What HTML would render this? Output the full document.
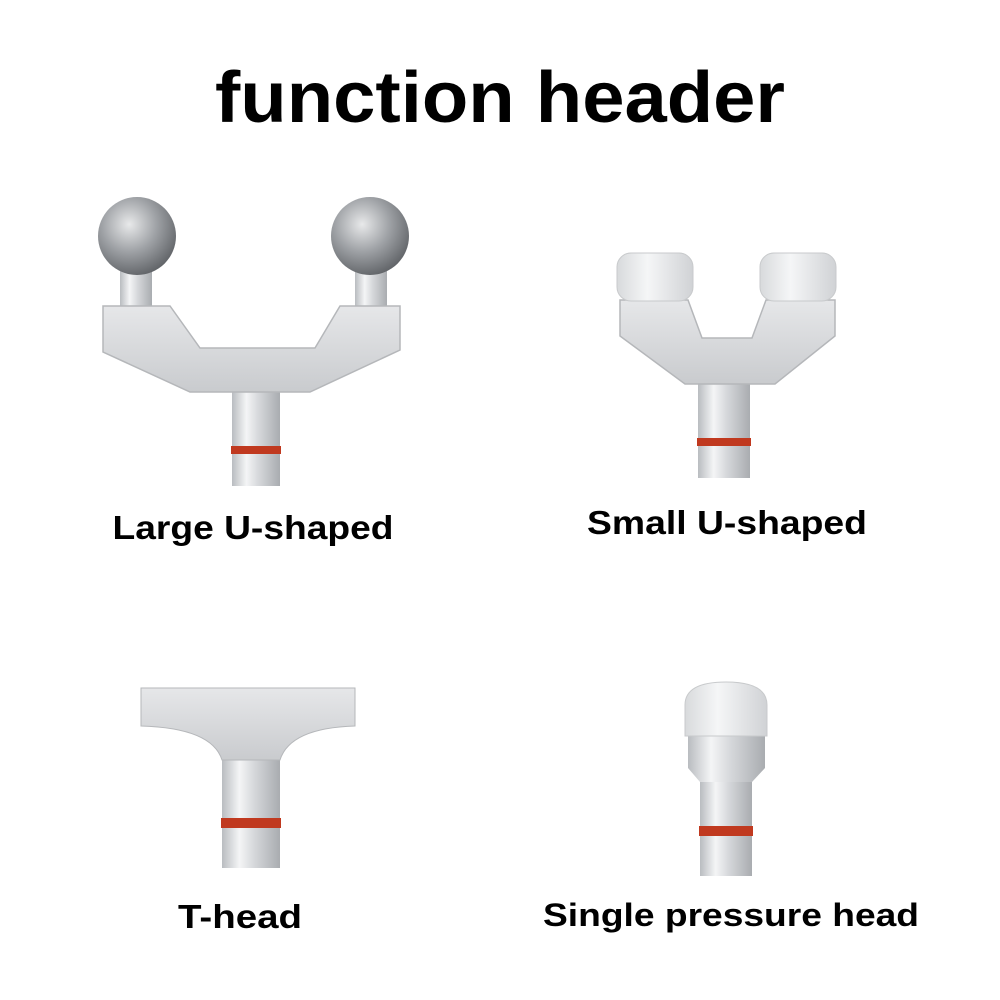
<!DOCTYPE html>
<html><head><style>
html,body{margin:0;padding:0;background:#fff;}
svg{display:block}
text{font-family:"Liberation Sans",sans-serif;font-weight:bold;fill:#000;text-anchor:middle}
</style></head><body>
<svg width="1000" height="1000" viewBox="0 0 1000 1000">
<defs>
<linearGradient id="cyl" x1="0" x2="1" y1="0" y2="0">
<stop offset="0" stop-color="#b9bcc0"/><stop offset="0.3" stop-color="#f4f5f6"/><stop offset="0.55" stop-color="#d6d8db"/><stop offset="1" stop-color="#a9acb0"/>
</linearGradient>
<linearGradient id="alu" x1="0" x2="0" y1="0" y2="1">
<stop offset="0" stop-color="#e6e7e9"/><stop offset="1" stop-color="#c9cbce"/>
</linearGradient>
<radialGradient id="ball" cx="0.4" cy="0.35" r="0.7">
<stop offset="0" stop-color="#e8e9ea"/><stop offset="0.5" stop-color="#9fa2a6"/><stop offset="1" stop-color="#5d6064"/>
</radialGradient>
<linearGradient id="cap" x1="0" x2="1">
<stop offset="0" stop-color="#d8dadc"/><stop offset="0.4" stop-color="#f5f6f7"/><stop offset="1" stop-color="#d0d2d5"/>
</linearGradient>
</defs>
<text x="500" y="122" font-size="72" textLength="570" lengthAdjust="spacingAndGlyphs">function header</text>

<!-- Large U -->
<rect x="120" y="268" width="32" height="40" fill="url(#cyl)"/>
<rect x="355" y="268" width="32" height="40" fill="url(#cyl)"/>
<circle cx="137" cy="236" r="39" fill="url(#ball)"/>
<circle cx="370" cy="236" r="39" fill="url(#ball)"/>
<rect x="232" y="390" width="48" height="96" fill="url(#cyl)"/>
<rect x="231" y="446" width="50" height="8" fill="#c0391f"/>
<polygon points="103,306 170,306 200,348 315,348 340,306 400,306 400,350 310,392 190,392 103,352" fill="url(#alu)" stroke="#b5b7ba" stroke-width="1.5"/>
<text x="253" y="539" font-size="33" textLength="281" lengthAdjust="spacingAndGlyphs">Large U-shaped</text>

<!-- Small U -->
<rect x="698" y="380" width="52" height="98" fill="url(#cyl)"/>
<rect x="697" y="438" width="54" height="8" fill="#c0391f"/>
<polygon points="620,300 688,300 702,338 752,338 766,300 835,300 835,336 775,384 685,384 620,336" fill="url(#alu)" stroke="#b5b7ba" stroke-width="1.5"/>
<rect x="617" y="253" width="76" height="48" rx="14" fill="url(#cap)" stroke="#c8cacc"/>
<rect x="760" y="253" width="76" height="48" rx="14" fill="url(#cap)" stroke="#c8cacc"/>
<text x="727" y="534" font-size="33" textLength="280" lengthAdjust="spacingAndGlyphs">Small U-shaped</text>

<!-- T-head -->
<rect x="222" y="750" width="58" height="118" fill="url(#cyl)"/>
<rect x="221" y="818" width="60" height="10" fill="#c0391f"/>
<path d="M141,688 L355,688 L355,726 Q290,728 280,760 L222,760 Q212,728 141,726 Z" fill="url(#alu)" stroke="#b5b7ba"/>
<text x="240" y="928" font-size="33" textLength="124" lengthAdjust="spacingAndGlyphs">T-head</text>

<!-- Single -->
<rect x="700" y="780" width="52" height="96" fill="url(#cyl)"/>
<path d="M688,735 L765,735 L765,768 L752,782 L700,782 L688,768 Z" fill="url(#cyl)"/>
<rect x="699" y="826" width="54" height="10" fill="#c0391f"/>
<path d="M685,736 L685,705 Q685,682 726,682 Q767,682 767,705 L767,736 Z" fill="url(#cap)" stroke="#c8cacc"/>
<text x="731" y="926" font-size="32" textLength="376" lengthAdjust="spacingAndGlyphs">Single pressure head</text>
</svg>
</body></html>
